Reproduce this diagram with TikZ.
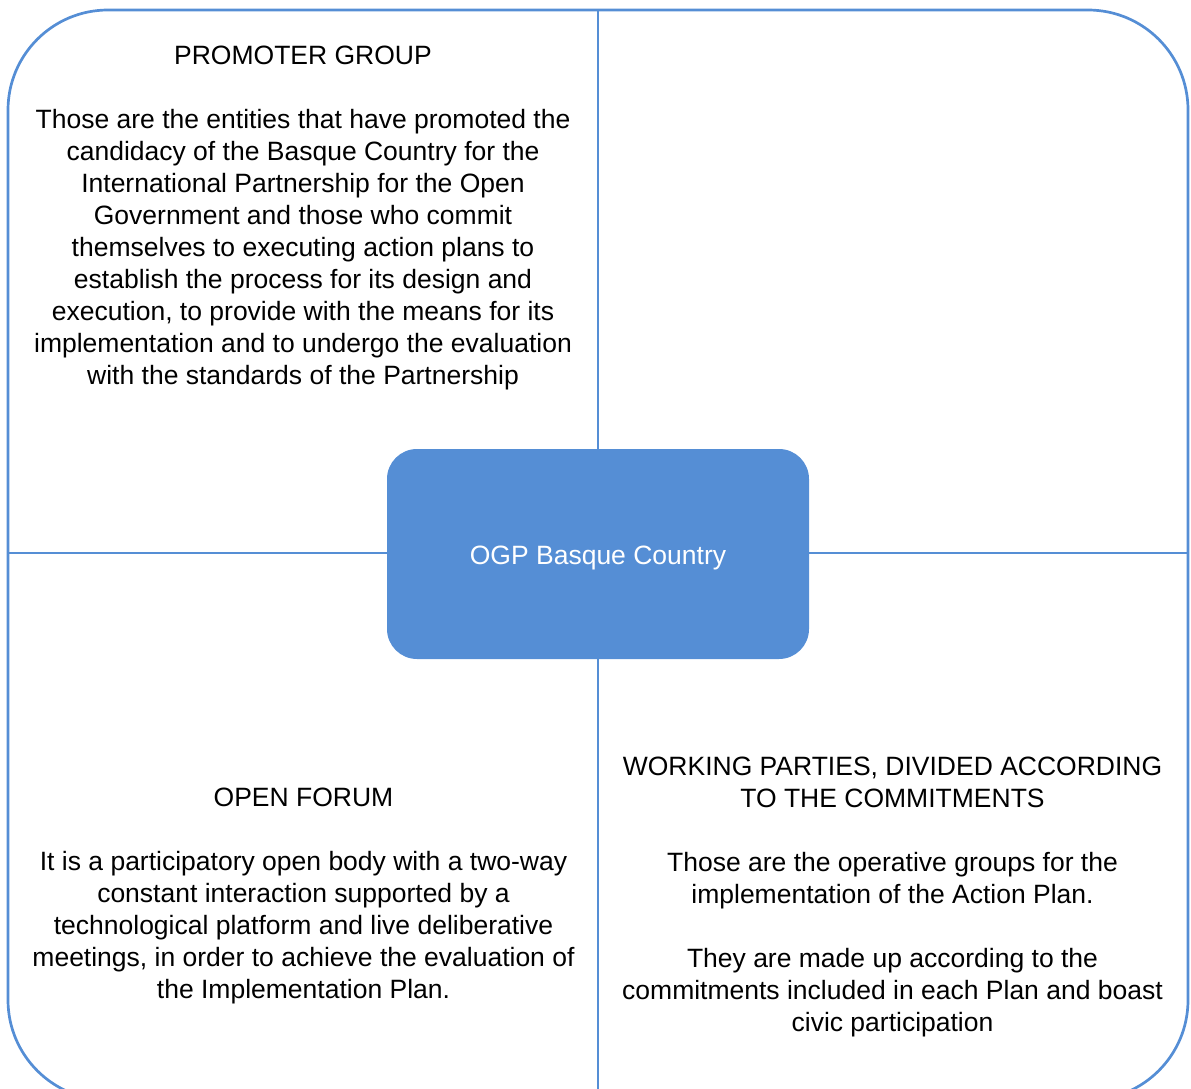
\documentclass[tikz,border=0pt]{standalone}
\usepackage{fontspec}
\setmainfont{Liberation Sans}
\definecolor{ogpblue}{HTML}{558ED5}
\begin{document}
\begin{tikzpicture}[x=1pt,y=-1pt,
  frame/.style={draw=ogpblue,line width=2.7pt},
  divider/.style={draw=ogpblue,line width=2.7pt},
  hub/.style={fill=ogpblue,draw=none,rounded corners=30pt,minimum width=422pt,minimum height=210pt,inner sep=0pt},
  hubtext/.style={inner sep=0pt,text=white,font=\fontsize{26.5}{32}\selectfont},
  txt/.style={anchor=north,inner sep=0pt,align=center,font=\fontsize{26.5}{32}\selectfont}]
\useasboundingbox (0,0) rectangle (1191,1089);
\draw[frame,rounded corners=100pt] (8,10) rectangle (1188,1100);
\coordinate (top) at (598,10);
\coordinate (bottom) at (598,1100);
\coordinate (left) at (8,553);
\coordinate (right) at (1188,553);
\node[hub] (hub) at (598,554) {};
\node[hubtext] (hublabel) at (598,557.5) {OGP Basque Country};
\draw[divider] (hub.north |- 0,449) -- (top);
\draw[divider] (hub.south |- 0,659) -- (bottom);
\draw[divider] (hub.west |- 0,553) -- (left);
\draw[divider] (hub.east |- 0,553) -- (right);
\node[txt] (promoter) at (303,41.6) {\strut PROMOTER GROUP\\[32pt]
Those are the entities that have promoted the\\
candidacy of the Basque Country for the\\
International Partnership for the Open\\
Government and those who commit\\
themselves to executing action plans to\\
establish the process for its design and\\
execution, to provide with the means for its\\
implementation and to undergo the evaluation\\
with the standards of the Partnership};
\node[txt] (forum) at (303.5,783.6) {\strut OPEN FORUM\\[32pt]
It is a participatory open body with a two-way\\
constant interaction supported by a\\
technological platform and live deliberative\\
meetings, in order to achieve the evaluation of\\
the Implementation Plan.};
\node[txt] (working) at (892.5,753) {\strut WORKING PARTIES, DIVIDED ACCORDING\\
TO THE COMMITMENTS\\[32pt]
Those are the operative groups for the\\
implementation of the Action Plan.\\[32pt]
They are made up according to the\\
commitments included in each Plan and boast\\
civic participation};
\end{tikzpicture}
\end{document}
